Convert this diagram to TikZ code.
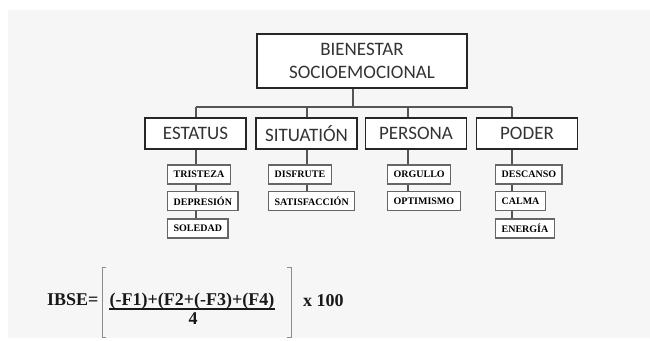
\documentclass[tikz,border=0pt]{standalone}
\usepackage{fontspec}
\newfontfamily\carl{Carlito}
\newfontfamily\tms{Liberation Serif}
\definecolor{bgray}{HTML}{F6F6F6}
\definecolor{linegray}{HTML}{555555}
\definecolor{txtgray}{HTML}{333333}
\begin{document}
\begin{tikzpicture}[x=1pt,y=-1pt,
  bigbox/.style={draw=black!85, line width=1.8pt, fill=white, text=txtgray, font=\carl\fontsize{19}{23}\selectfont, inner sep=0pt, minimum height=31pt, minimum width=101pt},
  topbox/.style={draw=black!85, line width=1.8pt, fill=white, text=txtgray, font=\carl\fontsize{19}{23}\selectfont, align=center, inner sep=0pt, minimum width=210pt, minimum height=54pt},
  smallbox/.style={draw=black!60, line width=1.3pt, fill=white, font=\tms\bfseries\fontsize{10}{12}\selectfont, inner xsep=6pt, inner ysep=0pt, minimum height=19pt, anchor=west},
  conn/.style={draw=linegray, line width=1.5pt},
  brk/.style={draw=black!45, line width=1pt},
  ftxt/.style={font=\tms\bfseries\fontsize{18}{20}\selectfont, inner sep=0pt, text=black!90}
]
\useasboundingbox (0,0) rectangle (650,340);
\fill[white] (0,0) rectangle (650,340);
\fill[bgray] (8,10) rectangle (650,338);

% top
\node[topbox] (top) at (362,61) {BIENESTAR\\SOCIOEMOCIONAL};

% bus coordinates
\coordinate (tb) at (353,107);
\coordinate (c1) at (196,107);
\coordinate (c2) at (307,107);
\coordinate (c3) at (408,107);
\coordinate (c4) at (512,107);

% level 2
\node[bigbox] (e) at (195.5,133.5) {ESTATUS};
\node[bigbox] (s) at (306.5,133.5) {SITUATIÓN};
\node[bigbox] (p) at (416,133.5) {PERSONA};
\node[bigbox] (d) at (527,133.5) {PODER};

% level 3
\node[smallbox] (e1) at (167,174.5) {TRISTEZA};
\node[smallbox] (e2) at (167,201) {DEPRESIÓN};
\node[smallbox] (e3) at (167,228.5) {SOLEDAD};
\node[smallbox] (s1) at (268,174.5) {DISFRUTE};
\node[smallbox] (s2) at (268,201) {SATISFACCIÓN};
\node[smallbox] (p1) at (387,174.5) {ORGULLO};
\node[smallbox] (p2) at (387,201) {OPTIMISMO};
\node[smallbox] (d1) at (495,174.5) {DESCANSO};
\node[smallbox] (d2) at (495,201) {CALMA};
\node[smallbox] (d3) at (495,228.5) {ENERGÍA};

% connectors
\begin{scope}[on background layer/.try]
\end{scope}
\draw[conn] (top.south -| tb) -- (tb);
\draw[conn] (c1) -- (c4);
\draw[conn] (c1) -- (e.north -| c1);
\draw[conn] (c2) -- (s.north -| c2);
\draw[conn] (c3) -- (p.north -| c3);
\draw[conn] (c4) -- (d.north -| c4);
\draw[conn] (e.south -| c1) -- (e1.north -| c1);
\draw[conn] (e1.south -| c1) -- (e2.north -| c1);
\draw[conn] (e2.south -| c1) -- (e3.north -| c1);
\draw[conn] (s.south -| c2) -- (s1.north -| c2);
\draw[conn] (s1.south -| c2) -- (s2.north -| c2);
\draw[conn] (p.south -| c3) -- (p1.north -| c3);
\draw[conn] (p1.south -| c3) -- (p2.north -| c3);
\draw[conn] (d.south -| c4) -- (d1.north -| c4);
\draw[conn] (d1.south -| c4) -- (d2.north -| c4);
\draw[conn] (d2.south -| c4) -- (d3.north -| c4);

% formula
\node[ftxt, anchor=base west] (ibse) at (47,305) {IBSE=};
\node[ftxt, anchor=base] (num) at (192,305) {(-F1)+(F2+(-F3)+(F4)};
\draw[line width=1.1pt, black!90] (num.south west) -- (num.south east);
\node[ftxt, anchor=base] (den) at (193,324) {4};
\node[ftxt, anchor=base west] (x100) at (303,306) {x 100};
\draw[brk] (106,267) -- (102,267) -- (102,337) -- (106,337);
\draw[brk] (287,267) -- (291,267) -- (291,337) -- (287,337);
\end{tikzpicture}
\end{document}
